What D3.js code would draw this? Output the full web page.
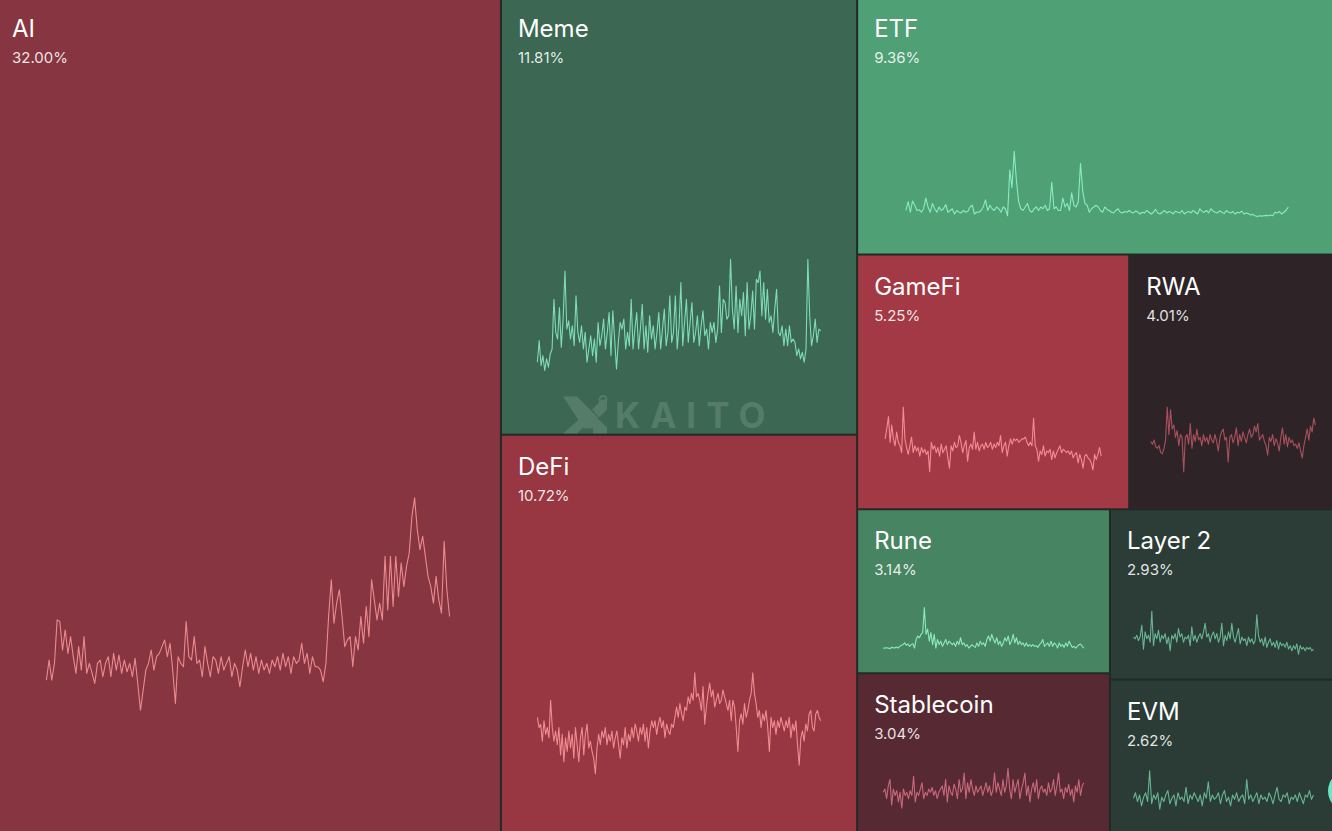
<!DOCTYPE html>
<html>
<head>
<meta charset="utf-8">
<script src="https://cdn.jsdelivr.net/npm/d3@7"></script>
<style>
html,body{margin:0;padding:0;background:#222a27;overflow:hidden}
svg{display:block}
</style>
</head>
<body>
<svg id="chart" width="1332" height="831"></svg>
<script>
// ---- data ----
const categories = ["AI","Meme","DeFi","ETF","GameFi","RWA","Rune","Stablecoin","Layer 2","EVM"];
const shares = [32.00, 11.81, 10.72, 9.36, 5.25, 4.01, 3.14, 3.04, 2.93, 2.62];
const trend = ["down","up","down","up","down","down","up","down","up","up"];

const aiSeries = [130,190,130,180,310,305,220,280,210,260,200,150,230,160,260,150,180,150,120,180,190,140,180,200,140,210,160,205,150,190,155,180,140,195,120,40,100,160,180,220,160,200,210,230,250,200,240,160,60,200,180,170,305,200,190,260,180,190,140,230,180,140,200,190,150,200,160,180,200,140,180,160,110,170,220,170,210,160,200,150,190,160,180,150,190,170,200,160,210,170,200,150,200,180,190,240,180,210,150,200,170,170,160,125,180,320,430,300,360,400,320,230,250,260,170,260,220,320,240,350,260,430,370,310,360,310,500,340,500,350,500,380,480,410,470,510,620,675,580,520,560,500,440,410,360,440,370,330,545,400,320];

const memeSeries = [40,105,30,60,15,50,25,65,80,230,130,110,205,85,170,315,140,165,110,150,90,240,130,100,150,80,130,40,80,120,60,110,40,160,90,120,170,80,130,190,60,195,110,20,100,160,140,170,80,130,90,230,80,140,190,80,140,215,80,150,70,180,110,150,80,130,190,80,140,200,90,130,240,100,130,240,80,150,280,90,160,230,100,160,220,100,130,180,90,150,195,120,140,80,160,130,160,100,140,270,130,230,220,170,180,350,200,140,270,130,230,180,250,120,280,140,180,255,140,290,280,315,180,280,170,260,160,180,130,200,260,130,120,150,90,140,90,150,100,110,100,60,80,50,70,40,80,350,180,90,120,170,100,140,135];

const etfSeries = [35,60,30,62,50,35,37,30,40,70,45,30,55,40,30,45,35,40,52,30,35,40,25,35,30,28,35,30,32,45,50,25,30,30,35,45,65,35,50,40,35,45,40,30,45,40,20,150,100,203,120,60,40,35,45,55,35,30,40,45,35,45,40,50,35,40,115,40,45,35,35,70,45,55,35,85,50,45,60,168,90,55,50,30,40,45,50,45,35,30,45,38,35,30,28,35,40,30,28,32,30,35,30,28,34,30,25,30,28,35,30,25,30,38,28,25,30,35,28,32,30,25,33,30,28,35,25,30,32,28,35,30,25,40,32,30,35,28,40,33,30,28,34,30,26,35,30,28,32,25,30,28,33,25,28,26,22,24,20,18,20,19,20,21,20,22,20,30,28,32,25,30,35,45];

const defiSeries = [190,160,170,120,180,140,160,130,240,160,120,150,110,160,80,140,60,130,90,150,100,140,70,160,110,60,130,160,80,140,170,100,120,90,70,25,100,140,110,150,130,160,110,140,120,150,100,130,150,110,70,130,110,160,100,140,120,160,130,170,150,120,160,140,170,120,160,100,150,180,160,180,140,170,190,160,180,130,170,150,140,170,160,190,220,190,230,200,180,220,210,250,230,260,240,320,250,260,240,210,280,170,220,260,290,250,270,220,240,260,230,240,270,250,230,210,240,180,240,220,160,90,180,200,170,230,190,210,240,260,320,260,230,190,210,160,200,180,210,160,90,190,160,180,140,180,160,190,170,150,180,160,190,130,170,150,180,110,50,130,150,120,170,150,200,210,160,150,200,210,190,180];

const gamefiSeries = [110,140,175,100,150,110,90,130,100,90,70,202,110,85,65,90,115,70,90,75,85,60,85,70,80,65,75,15,100,80,90,70,85,60,95,70,80,90,55,25,90,75,100,85,90,120,100,70,90,105,45,85,95,80,130,80,100,75,90,95,80,100,85,90,100,80,95,85,100,90,120,70,90,100,60,90,110,95,110,105,110,100,105,110,110,115,100,90,100,90,170,90,80,45,75,65,90,60,75,70,80,50,75,55,70,80,90,70,80,75,70,75,65,75,55,65,70,40,65,50,25,60,65,55,50,40,20,65,50,65,85,60];

const rwaSeries = [125,115,130,105,100,110,85,80,100,130,250,150,240,170,185,140,165,110,150,140,15,140,150,115,190,100,150,125,170,130,140,110,150,125,140,115,150,130,120,150,125,90,140,160,170,130,140,50,140,150,120,140,175,110,150,125,160,140,120,150,170,140,150,180,160,190,130,140,150,125,110,75,140,125,150,110,135,120,90,140,175,115,150,105,140,120,130,110,115,100,120,90,65,110,140,170,130,180,160,210,185];

const runeSeries = [20,20,21,20,18,22,21,20,23,20,25,28,30,35,28,32,25,30,33,20,45,55,50,60,65,138,60,75,40,65,30,60,20,45,30,40,25,35,45,30,40,35,30,35,25,40,30,50,30,35,25,30,20,25,30,25,22,35,25,40,30,35,25,45,55,40,60,45,35,50,30,40,25,35,50,40,55,30,40,60,35,50,30,40,30,35,25,35,25,30,25,30,25,27,22,30,35,45,25,30,35,25,40,25,35,30,20,35,25,30,22,35,25,40,30,22,25,20,25,30,32,25,20];

const stablecoinSeries = [60,70,40,80,100,20,70,50,65,30,60,10,70,50,60,40,65,50,110,30,60,50,70,90,40,60,50,70,60,75,50,65,40,60,70,80,50,100,30,80,60,50,85,70,40,100,60,70,120,40,90,60,100,70,50,80,60,70,80,50,70,90,60,80,50,65,120,60,90,70,50,100,60,80,135,70,40,100,60,80,100,40,70,90,120,50,80,30,70,90,60,100,40,70,80,60,70,50,90,60,70,100,50,80,120,60,70,40,75,60,85,50,70,30,80,60,100,50,80,90];

const layer2Series = [65,60,70,55,65,100,30,80,60,70,50,140,40,75,60,85,50,70,60,75,45,65,25,70,60,75,50,90,65,75,50,65,60,70,40,95,55,70,50,65,75,60,80,105,65,75,50,70,80,60,75,50,65,105,40,70,55,80,60,105,65,50,70,90,45,65,55,60,40,65,50,60,45,55,130,70,50,60,40,65,35,50,60,40,50,35,55,30,50,40,45,35,50,30,40,25,40,30,45,15,40,30,35,25,35,30,35,25,30];

const evmSeries = [25,30,22,28,18,26,30,22,50,20,28,24,30,15,26,22,28,32,20,25,28,18,30,24,26,22,35,20,28,24,30,26,22,28,18,30,25,40,22,28,24,26,30,20,28,32,22,26,18,28,24,30,22,26,28,20,42,24,28,22,26,30,20,28,24,26,22,30,26,20,28,35,24,22,28,26,30,20,26,24,28,22,30,25,20,28,26,32,24,28];

const seriesByName = {
  "AI": aiSeries, "Meme": memeSeries, "DeFi": defiSeries, "ETF": etfSeries,
  "GameFi": gamefiSeries, "RWA": rwaSeries, "Rune": runeSeries,
  "Stablecoin": stablecoinSeries, "Layer 2": layer2Series, "EVM": evmSeries
};

// ---- styles ----
const tileStyle = {
  "AI":         {fill:"#873540", line:"#ec8a8f"},
  "Meme":       {fill:"#3b6753", line:"#7fdcb5"},
  "DeFi":       {fill:"#983641", line:"#f08b90"},
  "ETF":        {fill:"#4fa075", line:"#8aecc2"},
  "GameFi":     {fill:"#a33944", line:"#f28c92"},
  "RWA":        {fill:"#2e2428", line:"#a9505d"},
  "Rune":       {fill:"#478462", line:"#8de9c0"},
  "Stablecoin": {fill:"#572a33", line:"#c8687a"},
  "Layer 2":    {fill:"#2b3d36", line:"#68b593"},
  "EVM":        {fill:"#2a3c35", line:"#68b593"}
};

const W = 1332, H = 831;
const svg = d3.select("#chart");
svg.append("rect").attr("width", W).attr("height", H).attr("fill", "#222a27");

const root = d3.hierarchy({children: categories.map((c, i) => ({name: c, value: shares[i], trend: trend[i], series: seriesByName[c]}))})
  .sum(d => d.value || 0)
  .sort((a, b) => b.value - a.value);

d3.treemap()
  .tile(d3.treemapSquarify.ratio(1))
  .size([1340, 833])
  .paddingInner(2)(root);

const g = svg.append("g").attr("transform", "translate(-4,-2)");

const leaf = g.selectAll("g.tile").data(root.leaves()).join("g")
  .attr("class", "tile")
  .attr("transform", d => `translate(${d.x0},${d.y0})`);

leaf.append("rect")
  .attr("width", d => d.x1 - d.x0)
  .attr("height", d => d.y1 - d.y0)
  .attr("fill", d => tileStyle[d.data.name].fill);

leaf.each(function(d) {
  const w = d.x1 - d.x0, h = d.y1 - d.y0;
  const vals = d.data.series;
  const x = d3.scaleLinear().domain([0, vals.length - 1]).range([0.1 * w, 0.9 * w]);
  const y = d3.scaleLinear().domain(d3.extent(vals)).range([0.855 * h, 0.6 * h]);
  const line = d3.line().x((v, i) => x(i)).y(v => y(v));
  d3.select(this).append("path")
    .attr("d", line(vals))
    .attr("fill", "none")
    .attr("stroke", tileStyle[d.data.name].line)
    .attr("stroke-width", 1.1)
    .attr("stroke-linejoin", "round");
});

leaf.append("text")
  .attr("x", 16).attr("y", 39)
  .attr("fill", "#ffffff")
  .style("font-family", "Inter, 'Open Sans', sans-serif")
  .style("font-size", "24px")
  .style("font-weight", 400)
  .text(d => d.data.name);

leaf.append("text")
  .attr("x", 16).attr("y", 65)
  .attr("fill", "rgba(255,255,255,0.88)")
  .style("font-family", "Inter, 'Open Sans', sans-serif")
  .style("font-size", "15px")
  .style("font-weight", 400)
  .text(d => d.data.value.toFixed(2) + "%");

// ---- watermark ----
const wm = svg.append("g").attr("transform", `translate(${W / 2},${H / 2})`).attr("opacity", 0.13);
const lg = wm.append("g").attr("fill", "#ffffff").attr("stroke", "#ffffff");
lg.append("path").attr("d", "M-103,-19 L-89,-19 L-68,2 L-68,13 L-82,13 Z").attr("stroke", "none");
lg.append("path").attr("d", "M-103,18 L-89,18 L-78,7 L-78,-4 Z").attr("stroke", "none");
lg.append("path").attr("d", "M-74,-6 L-64,-16 L-59,-16 L-59,-6 L-67,2 Z").attr("stroke", "none");
lg.append("path").attr("d", "M-67,4 L-59,12 L-59,18 L-73,18 L-73,10 Z").attr("stroke", "none");
lg.append("circle").attr("cx", -63).attr("cy", -16).attr("r", 3.5).attr("fill", "none").attr("stroke-width", 2);
wm.append("text")
  .attr("x", -51).attr("y", 12)
  .attr("fill", "#ffffff")
  .style("font-family", "Inter, 'DejaVu Sans', sans-serif")
  .style("font-size", "35px")
  .style("font-weight", 700)
  .style("letter-spacing", "10px")
  .text("KAITO");

// ---- corner button ----
svg.append("circle").attr("cx", 1349).attr("cy", 791).attr("r", 21).attr("fill", "#6fe3c2");
</script>
</body>
</html>
